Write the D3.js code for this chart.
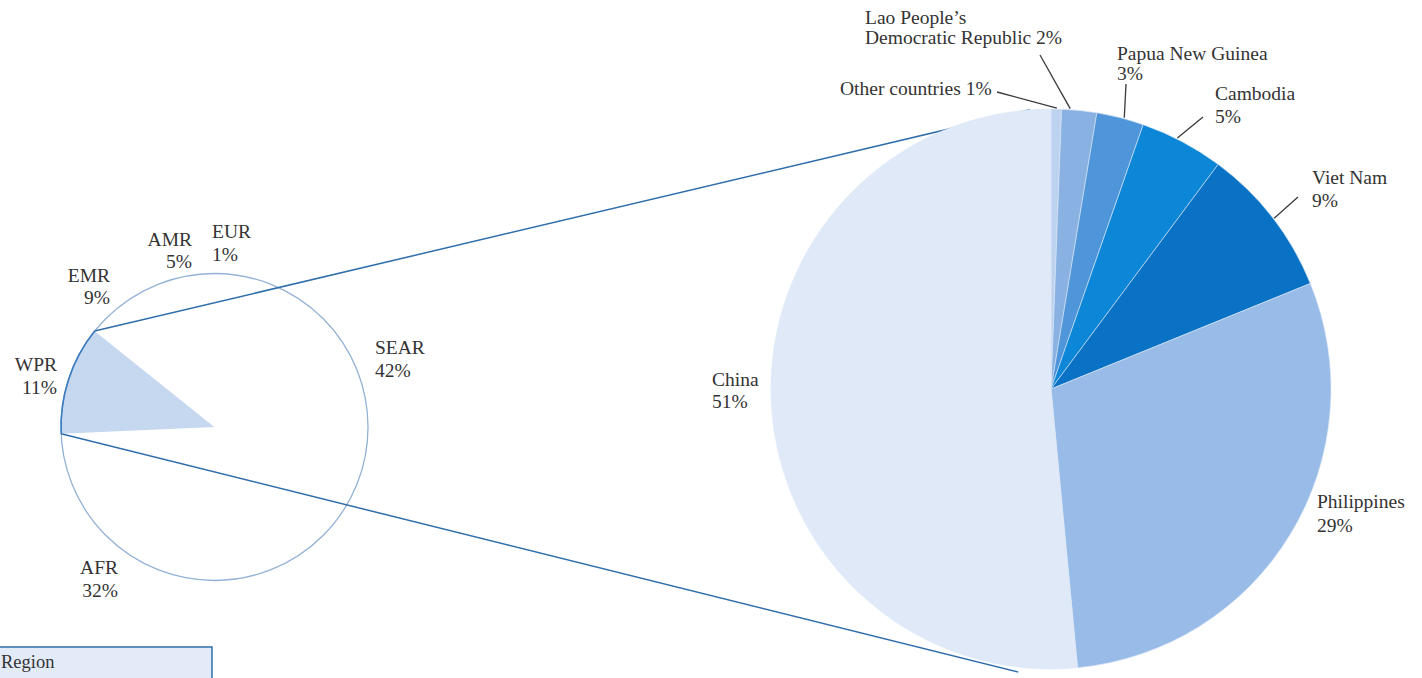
<!DOCTYPE html>
<html>
<head>
<meta charset="utf-8">
<script src="https://cdn.jsdelivr.net/npm/d3@7"></script>
<style>
  html, body { margin: 0; padding: 0; background: #ffffff; }
  svg { display: block; }
  text { font-family: "Liberation Serif", "Times New Roman", serif; fill: #333333; }
</style>
</head>
<body>
<svg id="chart" width="1422" height="678"></svg>
<script>
// ---------------- DATA ----------------
// Small pie: share by WHO region
const regionCategories = ["EUR", "SEAR", "AFR", "WPR", "EMR", "AMR"];
const regionValues     = [0.8, 41.6, 31.6, 11.4, 8.8, 5.4];
const regionPctLabels  = ["1%", "42%", "32%", "11%", "9%", "5%"];
const highlightRegion  = "WPR";

// Big pie: breakdown of the Western Pacific Region by country
const countryCategories = ["Other countries", "Lao People’s Democratic Republic", "Papua New Guinea",
                           "Cambodia", "Viet Nam", "Philippines", "China"];
const countryValues     = [0.6, 2.0, 2.7, 4.8, 8.6, 29.4, 51.1];
const countryPctLabels  = ["1%", "2%", "3%", "5%", "9%", "29%", "51%"];
const countryNameLines  = [["Other countries"], ["Lao People’s", "Democratic Republic"], ["Papua New Guinea"],
                           ["Cambodia"], ["Viet Nam"], ["Philippines"], ["China"]];

const legendTitle = "Region";

// ---------------- LAYOUT / STYLE ----------------
const W = 1422, H = 678;
const fontSize = 19.5;
const small = { cx: 214.5, cy: 427, r: 153.5 };
const big   = { cx: 1051,  cy: 389, r: 280 };

const regionColors  = { WPR: "#c6d8f0" };
const countryColors = ["#bcd2ef", "#89b1e2", "#4e95da", "#0c87d8", "#0a72c4", "#98bce7", "#e0e9f8"];

const regionLabelLayout = {
  EUR:  { x: 212, y: 238, anchor: "start", gap: 23 },
  SEAR: { x: 375, y: 354, anchor: "start", gap: 23 },
  AFR:  { x: 118, y: 574, anchor: "end",   gap: 23 },
  WPR:  { x: 57,  y: 371, anchor: "end",   gap: 23 },
  EMR:  { x: 110, y: 282, anchor: "end",   gap: 22 },
  AMR:  { x: 192, y: 246, anchor: "end",   gap: 22 }
};

// pctInline: percentage on the same line as last name line
const countryLabelLayout = [
  { x: 840,  y: 95,  gap: 20, pctInline: true,  leader: { t: 0.55, to: [997, 92] } },
  { x: 865,  y: 24,  gap: 20, pctInline: true,  leader: { t: 0.24, to: [1040, 55] } },
  { x: 1117, y: 60,  gap: 20, pctInline: false, leader: { t: 0.58, to: [1126, 84] } },
  { x: 1215, y: 100, gap: 23, pctInline: false, leader: { t: 0.43, to: [1203, 117] } },
  { x: 1312, y: 184, gap: 23, pctInline: false, leader: { t: 0.51, to: [1298, 197] } },
  { x: 1317, y: 508, gap: 24, pctInline: false, leader: null },
  { x: 712,  y: 386, gap: 22, pctInline: false, leader: null }
];

// where the two connector lines meet the big pie (angle in degrees, radius)
const connectorTargets = { upper: { deg: -4.3, r: 280 }, lower: { deg: 186.6, r: 285 } };

// ---------------- DRAW ----------------
const svg = d3.select("#chart");
const rad = d => d * Math.PI / 180;

// Small pie
const smallPie = d3.pie().sort(null).value(d => d.value);
const smallArcs = smallPie(regionCategories.map((c, i) => ({ cat: c, value: regionValues[i], pct: regionPctLabels[i] })));
const smallArc = d3.arc().innerRadius(0).outerRadius(small.r);
const gSmall = svg.append("g").attr("transform", `translate(${small.cx},${small.cy})`);

gSmall.selectAll("path.slice")
  .data(smallArcs)
  .join("path")
  .attr("class", "slice")
  .attr("d", smallArc)
  .attr("fill", d => regionColors[d.data.cat] || "#ffffff")
  .attr("stroke", "none");

gSmall.append("circle")
  .attr("r", small.r)
  .attr("fill", "none")
  .attr("stroke", "#93b2d6")
  .attr("stroke-width", 1.3);

const hl = smallArcs.find(d => d.data.cat === highlightRegion);
gSmall.append("path")
  .attr("d", d3.arc().innerRadius(small.r).outerRadius(small.r)({ startAngle: hl.startAngle, endAngle: hl.endAngle }))
  .attr("fill", "none")
  .attr("stroke", "#3b7cbf")
  .attr("stroke-width", 1.6);

// Small pie labels
smallArcs.forEach(d => {
  const L = regionLabelLayout[d.data.cat];
  const t = svg.append("text")
    .attr("x", L.x).attr("y", L.y)
    .attr("text-anchor", L.anchor)
    .style("font-size", fontSize + "px");
  t.append("tspan").attr("x", L.x).text(d.data.cat);
  t.append("tspan").attr("x", L.x).attr("dy", L.gap).text(d.data.pct);
});

// Connector lines from highlighted slice to big pie
const pUp0 = d3.pointRadial(hl.endAngle, small.r);
const pLo0 = d3.pointRadial(hl.startAngle, small.r);
const pUp1 = d3.pointRadial(rad(connectorTargets.upper.deg), connectorTargets.upper.r);
const pLo1 = d3.pointRadial(rad(connectorTargets.lower.deg), connectorTargets.lower.r);
const connectors = [
  [[small.cx + pUp0[0], small.cy + pUp0[1]], [big.cx + pUp1[0], big.cy + pUp1[1]]],
  [[small.cx + pLo0[0], small.cy + pLo0[1]], [big.cx + pLo1[0], big.cy + pLo1[1]]]
];
svg.selectAll("line.connector")
  .data(connectors)
  .join("line")
  .attr("class", "connector")
  .attr("x1", d => d[0][0]).attr("y1", d => d[0][1])
  .attr("x2", d => d[1][0]).attr("y2", d => d[1][1])
  .attr("stroke", "#2f6eaa")
  .attr("stroke-width", 1.5);

// Big pie
const bigPie = d3.pie().sort(null).value(d => d.value);
const bigArcs = bigPie(countryCategories.map((c, i) => ({ cat: c, value: countryValues[i], pct: countryPctLabels[i], idx: i })));
const bigArc = d3.arc().innerRadius(0).outerRadius(big.r);
const gBig = svg.append("g").attr("transform", `translate(${big.cx},${big.cy})`);
gBig.selectAll("path")
  .data(bigArcs)
  .join("path")
  .attr("d", bigArc)
  .attr("fill", d => countryColors[d.data.idx])
  .attr("stroke", "#dbe7f6")
  .attr("stroke-width", 0.6);

// Leader lines
bigArcs.forEach(d => {
  const L = countryLabelLayout[d.data.idx];
  if (!L.leader) return;
  const a = d.startAngle + L.leader.t * (d.endAngle - d.startAngle);
  const p = d3.pointRadial(a, big.r + 1);
  svg.append("line")
    .attr("x1", L.leader.to[0]).attr("y1", L.leader.to[1])
    .attr("x2", big.cx + p[0]).attr("y2", big.cy + p[1])
    .attr("stroke", "#3a3a3a")
    .attr("stroke-width", 1.3);
});

// Big pie labels
bigArcs.forEach(d => {
  const L = countryLabelLayout[d.data.idx];
  const lines = countryNameLines[d.data.idx].slice();
  if (L.pctInline) lines[lines.length - 1] = lines[lines.length - 1] + " " + d.data.pct;
  else lines.push(d.data.pct);
  const t = svg.append("text")
    .attr("x", L.x).attr("y", L.y)
    .attr("text-anchor", "start")
    .style("font-size", fontSize + "px");
  lines.forEach((s, i) => {
    t.append("tspan").attr("x", L.x).attr("dy", i === 0 ? 0 : L.gap).text(s);
  });
});

// Legend box (cut by the bottom edge)
svg.append("rect")
  .attr("x", -2).attr("y", 647)
  .attr("width", 214).attr("height", 60)
  .attr("fill", "#e3ebf8")
  .attr("stroke", "#2f6fae")
  .attr("stroke-width", 1.5);
svg.append("text")
  .attr("x", 1).attr("y", 668)
  .style("font-size", "18.5px")
  .text(legendTitle);
</script>
</body>
</html>
